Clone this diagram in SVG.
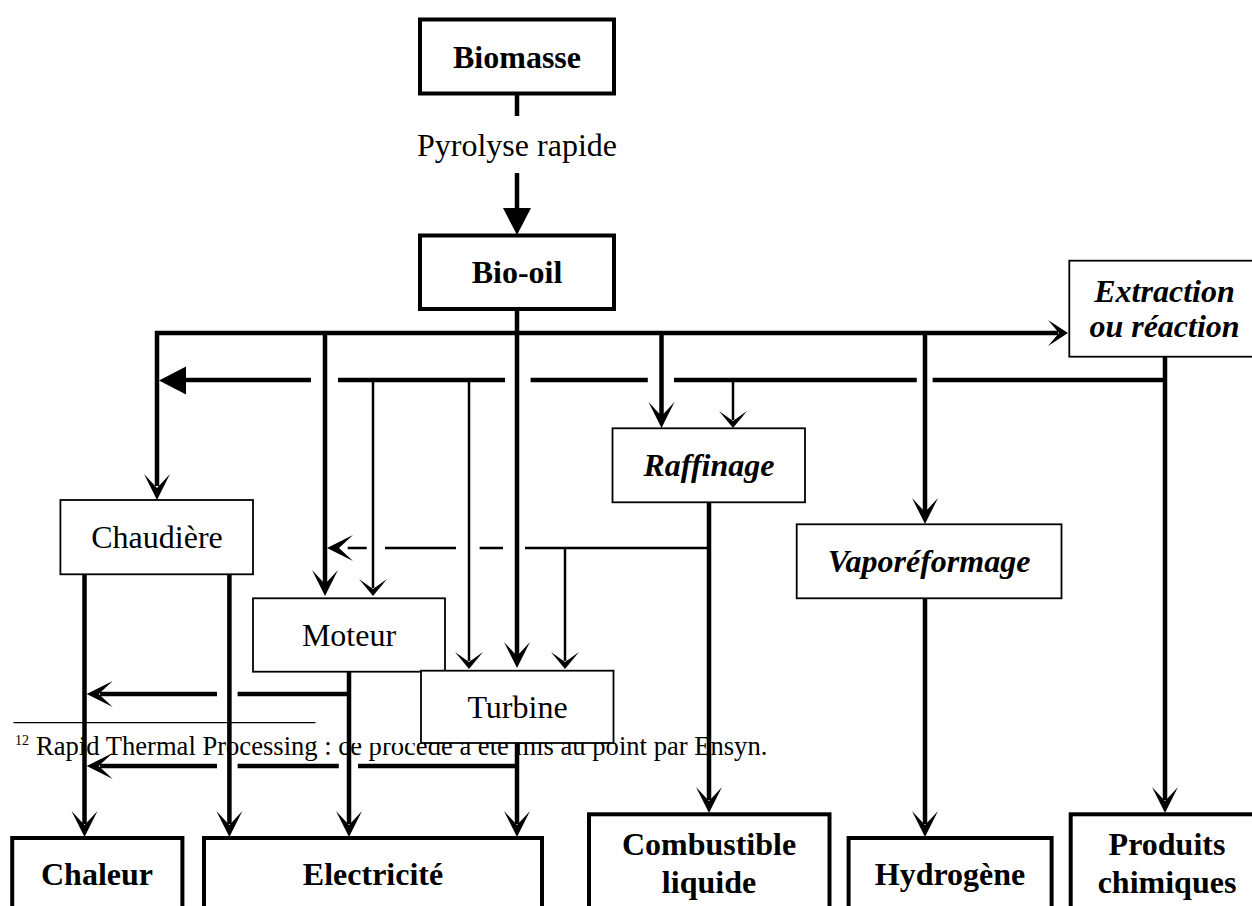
<svg xmlns="http://www.w3.org/2000/svg" xmlns:xlink="http://www.w3.org/1999/xlink" width="1252" height="906" viewBox="0 0 1252 906">
<style>
text{font-family:"Liberation Serif","Times New Roman",serif;fill:#000}
.t{font-size:32px;text-anchor:middle}
.b{font-weight:bold}
.bi{font-weight:bold;font-style:italic}
.fn{font-size:26.6px}
.bold{fill:#fff;stroke:#000;stroke-width:4}
.thinbox{fill:#fff;stroke:#000;stroke-width:1.8}
.thk{fill:none;stroke:#000;stroke-width:4.5}
.thn{fill:none;stroke:#000;stroke-width:2.5}
.ah{fill:#000;stroke:none}
</style>
<defs>
<path id="vThick" d="M0,0 L-13,-26 L0,-12 L13,-26 Z"/>
<path id="vThin" d="M0,0 L-14,-17 L0,-7 L14,-17 Z"/>
<path id="vShort" d="M0,0 L-13,-20 L0,-9 L13,-20 Z"/>
<path id="tri" d="M0,0 L-14,-27 L14,-27 Z"/>
</defs>
<rect width="1252" height="906" fill="#fff"/>

<g id="footnote">
<line x1="13.5" y1="722.7" x2="315.5" y2="722.7" stroke="#000" stroke-width="1.3"/>
<text x="15" y="745" font-size="14">12</text>
<text class="fn" x="36" y="755">Rapid Thermal Processing : ce procédé a été mis au point par Ensyn.</text>
<rect x="352" y="728" width="70" height="15" fill="#fff"/>
</g>

<g id="connectors">
<path class="thk" d="M517,93 V116"/>
<path class="thk" d="M517,173 V210"/>
<use href="#tri" xlink:href="#tri" class="ah" transform="translate(517,235)"/>
<path class="thk" d="M157,486 V333 H1058"/>
<use href="#vShort" xlink:href="#vShort" class="ah" transform="translate(1068,333) rotate(-90)"/>
<path class="thk" d="M325,333 V584"/>
<path class="thk" d="M517,309 V656"/>
<path class="thk" d="M661.5,333 V416"/>
<path class="thk" d="M925,333 V512"/>
<path class="thk" d="M185,380 H311 M338,380 H505 M530.6,380 H647.8 M674,380 H916.8 M932.6,380 H1165"/>
<use href="#tri" xlink:href="#tri" class="ah" transform="translate(159,380.5) rotate(90)"/>
<path class="thk" d="M1165,356 V800"/>
<path class="thk" d="M709,502 V800"/>
<path class="thk" d="M925,598 V824"/>
<path class="thk" d="M84.5,574 V824 M229.4,574 V824"/>
<path class="thk" d="M349,671 V824"/>
<path class="thk" d="M517,742 V824"/>
<path class="thk" d="M349,694 H237.6 M217,694 H100"/>
<path class="thk" d="M517,766 H358 M338.8,766 H237.6 M217,766 H100"/>
<path class="thn" d="M373,380 V588"/>
<path class="thn" d="M469,380 V661"/>
<path class="thn" d="M565,548 V661"/>
<path class="thn" d="M733,380 V420"/>
<path class="thn" d="M347.7,548 H366.7 M385,548 H456 M479.6,548 H503 M525,548 H709"/>
<use href="#vThick" xlink:href="#vThick" class="ah" transform="translate(327,548) rotate(90)"/>
<use href="#vThick" xlink:href="#vThick" class="ah" transform="translate(157,500)"/>
<use href="#vThick" xlink:href="#vThick" class="ah" transform="translate(325,596)"/>
<use href="#vThick" xlink:href="#vThick" class="ah" transform="translate(517,668)"/>
<use href="#vThick" xlink:href="#vThick" class="ah" transform="translate(661.5,428)"/>
<use href="#vThick" xlink:href="#vThick" class="ah" transform="translate(925,524)"/>
<use href="#vThick" xlink:href="#vThick" class="ah" transform="translate(84.5,837)"/>
<use href="#vThick" xlink:href="#vThick" class="ah" transform="translate(229.4,837)"/>
<use href="#vThick" xlink:href="#vThick" class="ah" transform="translate(349,837)"/>
<use href="#vThick" xlink:href="#vThick" class="ah" transform="translate(517,837)"/>
<use href="#vThick" xlink:href="#vThick" class="ah" transform="translate(709,813)"/>
<use href="#vThick" xlink:href="#vThick" class="ah" transform="translate(925,837)"/>
<use href="#vThick" xlink:href="#vThick" class="ah" transform="translate(1165,813)"/>
<use href="#vThick" xlink:href="#vThick" class="ah" transform="translate(86.7,694) rotate(90)"/>
<use href="#vThick" xlink:href="#vThick" class="ah" transform="translate(86.7,766) rotate(90)"/>
<use href="#vThin" xlink:href="#vThin" class="ah" transform="translate(373,596)"/>
<use href="#vThin" xlink:href="#vThin" class="ah" transform="translate(469,669)"/>
<use href="#vThin" xlink:href="#vThin" class="ah" transform="translate(565,669)"/>
<use href="#vThin" xlink:href="#vThin" class="ah" transform="translate(733,428)"/>
</g>

<g id="label-pyrolyse">
<text class="t" x="517" y="156">Pyrolyse rapide</text>
</g>

<g id="biomasse">
<rect class="bold" x="420" y="19.5" width="194" height="74"/>
<text class="t b" x="517" y="68">Biomasse</text>
</g>
<g id="bio-oil">
<rect class="bold" x="420" y="235.5" width="194" height="73.5"/>
<text class="t b" x="517" y="283">Bio-oil</text>
</g>
<g id="extraction">
<rect class="thinbox" x="1069.3" y="260.7" width="200" height="96"/>
<text class="t bi" x="1164.5" y="301.5">Extraction</text>
<text class="t bi" x="1164.5" y="337">ou réaction</text>
</g>
<g id="raffinage">
<rect class="thinbox" x="612.5" y="428.3" width="192.5" height="74"/>
<text class="t bi" x="709" y="475.7">Raffinage</text>
</g>
<g id="vaporeformage">
<rect class="thinbox" x="796.7" y="524.3" width="264.8" height="74"/>
<text class="t bi" x="929" y="571.7">Vaporéformage</text>
</g>
<g id="chaudiere">
<rect class="thinbox" x="60.4" y="500" width="192.6" height="74.3"/>
<text class="t" x="157" y="548">Chaudière</text>
</g>
<g id="moteur">
<rect class="thinbox" x="253" y="598.3" width="192" height="73.4"/>
<text class="t" x="349" y="646">Moteur</text>
</g>
<g id="turbine">
<rect class="thinbox" x="421" y="670.7" width="192.5" height="72.3"/>
<text class="t" x="517.5" y="718">Turbine</text>
</g>
<g id="chaleur">
<rect class="bold" x="12.2" y="838" width="170.2" height="80"/>
<text class="t b" x="97" y="885">Chaleur</text>
</g>
<g id="electricite">
<rect class="bold" x="204" y="838" width="338" height="80"/>
<text class="t b" x="373" y="885">Electricité</text>
</g>
<g id="combustible">
<rect class="bold" x="589" y="814.3" width="240.5" height="110"/>
<text class="t b" x="709" y="855">Combustible</text>
<text class="t b" x="709" y="892.7">liquide</text>
</g>
<g id="hydrogene">
<rect class="bold" x="848.6" y="838" width="203" height="80"/>
<text class="t b" x="950" y="885">Hydrogène</text>
</g>
<g id="produits">
<rect class="bold" x="1070.7" y="814.3" width="200" height="110"/>
<text class="t b" x="1167" y="855">Produits</text>
<text class="t b" x="1167" y="892.7">chimiques</text>
</g>
</svg>
